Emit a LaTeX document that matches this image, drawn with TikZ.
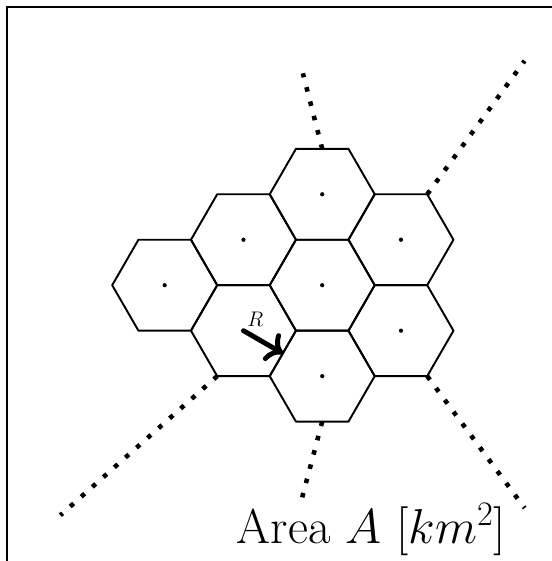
\RequirePackage{fix-cm}
\documentclass[tikz,border=0pt]{standalone}
\usetikzlibrary{arrows.meta}

\begin{document}
\begin{tikzpicture}[x=1.05cm,y=1.05cm,
  cell/.style={line width=1.1pt,line join=round},
  spoke/.style={line width=2.6pt,dash pattern=on 2.6pt off 5.8pt}]
  \useasboundingbox (-6.137,-5.253) rectangle (4.358,5.432);
  \draw[line width=1.3pt] (-6,-5.4) -- (-6,5.295) -- (4.5,5.295);
  % cell centres
  \coordinate (C0) at (0,0);
  \coordinate (C1) at (0,1.732);
  \coordinate (C2) at (1.5,0.866);
  \coordinate (C3) at (1.5,-0.866);
  \coordinate (C4) at (0,-1.732);
  \coordinate (C5) at (-1.5,-0.866);
  \coordinate (C6) at (-1.5,0.866);
  \coordinate (C7) at (-3,0);
  \foreach \c in {C0,C1,C2,C3,C4,C5,C6,C7}
    \draw[cell] (\c) ++(0:1) -- ++(120:1) -- ++(180:1) -- ++(240:1) -- ++(300:1) -- ++(0:1) -- cycle;
  \foreach \c in {C0,C1,C2,C3,C4,C6,C7}
    \fill (\c) circle (1.2pt);
  % spokes
  \coordinate (S1) at (0,2.598);   \coordinate (E1) at (-0.368,4.036);
  \coordinate (S2) at (2,1.732);   \coordinate (E2) at (3.855,4.274);
  \coordinate (S3) at (2,-1.732);  \coordinate (E3) at (3.855,-4.244);
  \coordinate (S4) at (0,-2.598);  \coordinate (E4) at (-0.381,-4.04);
  \coordinate (S5) at (-2,-1.732); \coordinate (E5) at (-4.987,-4.381);
  \foreach \i in {1,...,5}
    \draw[spoke] (S\i) -- (E\i);
  % radius
  \coordinate (M) at (-0.75,-1.299);
  \draw[line width=2.8pt,line cap=round,-{To[scale=1.1]}] (C5) -- (M);
  \node[inner sep=0pt,font=\fontsize{12}{14}\selectfont] (rlab) at (-1.276,-0.651) {$R$};
  \node[anchor=base west,inner sep=0pt,font=\fontsize{27.9}{32}\selectfont] (area) at (-1.632,-4.916) {Area $A$ $[km^2]$};
\end{tikzpicture}
\end{document}
